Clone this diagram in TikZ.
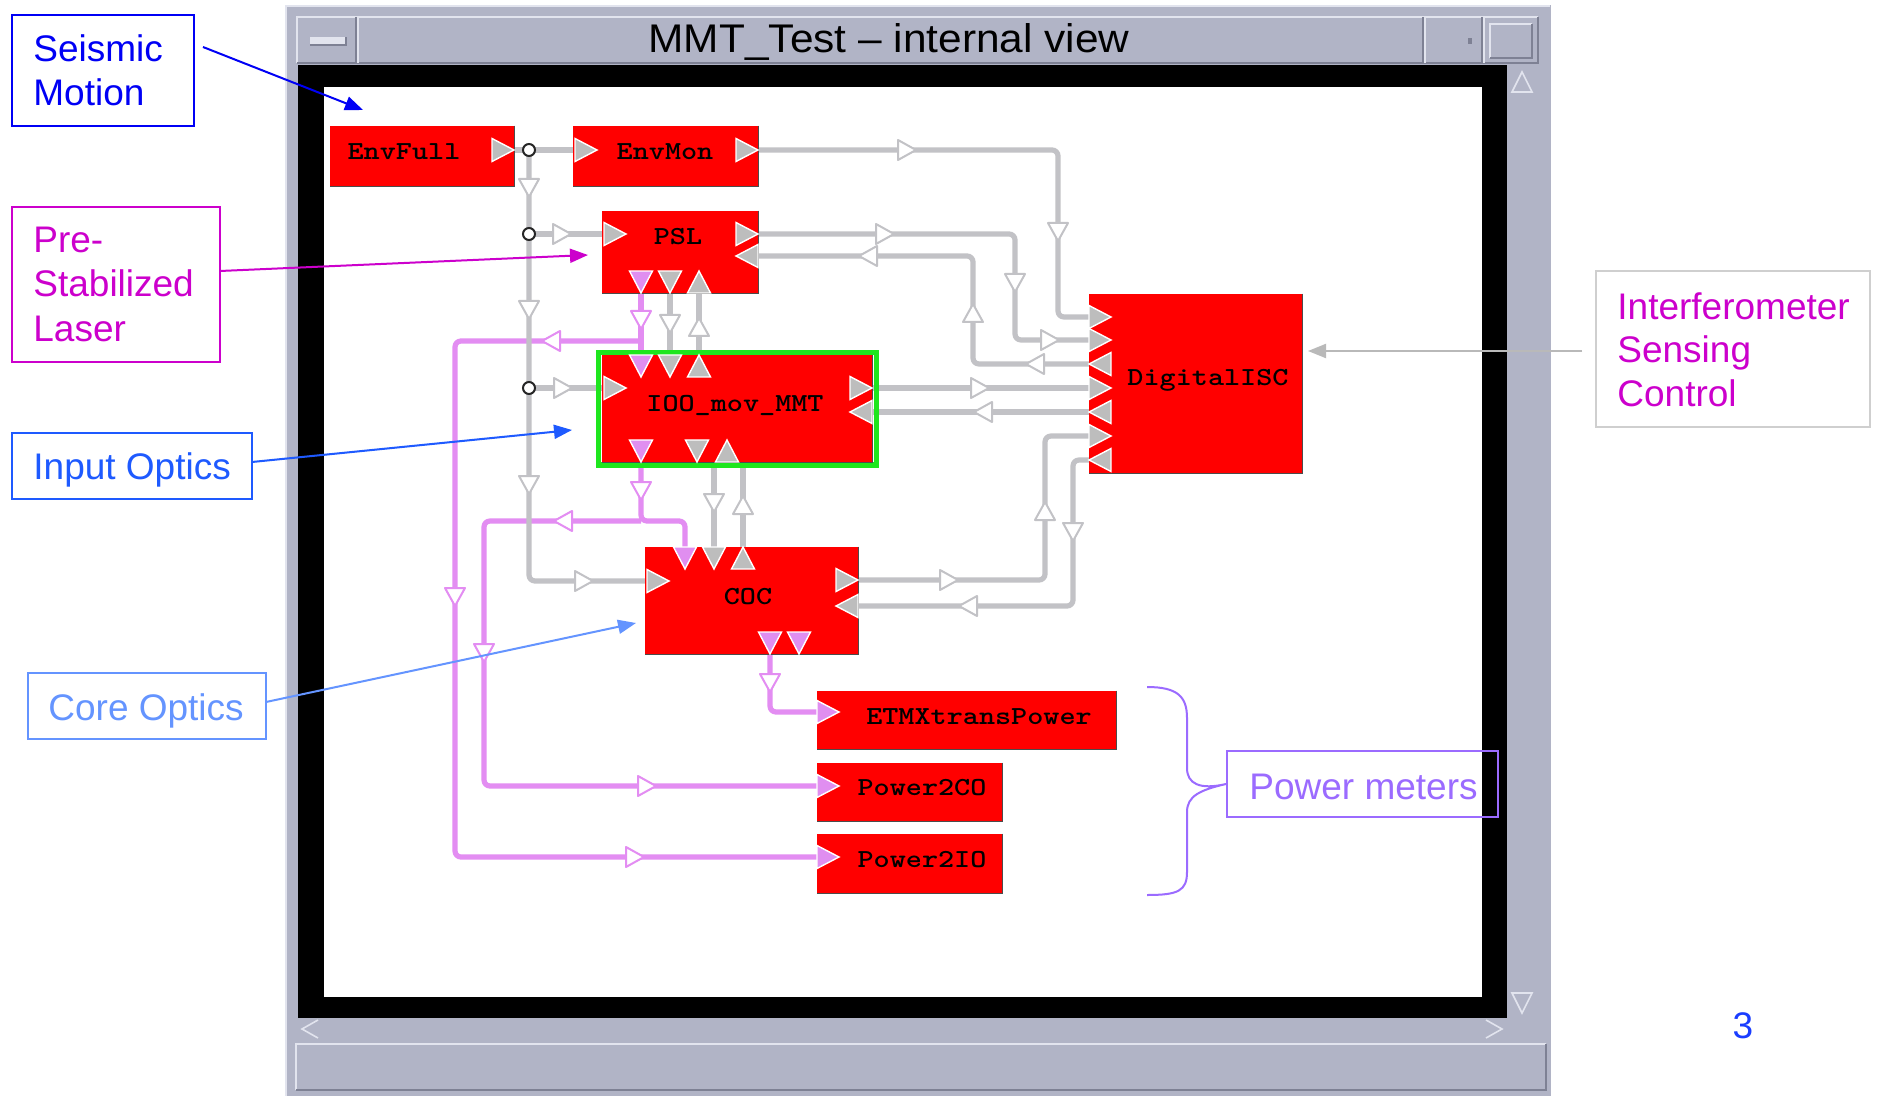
\documentclass[tikz,border=0pt]{standalone}
\usepackage{fontspec}
\usepackage{graphicx}
\setmainfont{Liberation Sans}
\newfontfamily\blkfont{lmmonolt10-bold}[Extension=.otf]
\usetikzlibrary{arrows.meta,fit}
\definecolor{winbg}{HTML}{B1B4C6}
\definecolor{winhl}{HTML}{E2E4EE}
\definecolor{winsh}{HTML}{7E8194}
\definecolor{wiregrey}{HTML}{C2C2C6}
\definecolor{portgrey}{HTML}{BDBDBD}
\definecolor{wirepink}{HTML}{E38DF2}
\definecolor{portpink}{HTML}{E08EF0}
\definecolor{ioogreen}{HTML}{1EE61E}
\definecolor{seisblue}{HTML}{0000F5}
\definecolor{pslmag}{HTML}{CC00CC}
\definecolor{ioblue}{HTML}{1E5AFF}
\definecolor{coblue}{HTML}{6494FF}
\definecolor{isclinegrey}{HTML}{B9B9B9}
\definecolor{iscbox}{HTML}{CFCFCF}
\definecolor{pwrpurple}{HTML}{9B6BFF}
\definecolor{pagenum}{HTML}{1A3DFF}
\definecolor{blkred}{HTML}{FF0000}
% port triangles (tip position)
\newcommand\portR[3][portg]{\path[#1] (#2,#3) -- ++(-22,-11.5) -- ++(0,23) -- cycle;}
\newcommand\portL[3][portg]{\path[#1] (#2,#3) -- ++(22,-11.5) -- ++(0,23) -- cycle;}
\newcommand\portD[3][portg]{\path[#1] (#2,#3) -- ++(-11.5,-22) -- ++(23,0) -- cycle;}
\newcommand\portU[3][portg]{\path[#1] (#2,#3) -- ++(-11.5,22) -- ++(23,0) -- cycle;}
% hollow wire arrows (centre position)
\newcommand\harR[3][hg]{\path[#1] (#2+9,#3) -- ++(-18,-10) -- ++(0,20) -- cycle;}
\newcommand\harL[3][hg]{\path[#1] (#2-9,#3) -- ++(18,-10) -- ++(0,20) -- cycle;}
\newcommand\harD[3][hg]{\path[#1] (#2,#3+9) -- ++(-10,-18) -- ++(20,0) -- cycle;}
\newcommand\harU[3][hg]{\path[#1] (#2,#3-9) -- ++(-10,18) -- ++(20,0) -- cycle;}
\newcommand\blkshade[1]{\draw[blkshadow] (#1.north east) -- (#1.south east) -- (#1.south west);}
\newcommand\btext[1]{\scalebox{1.18}[1]{#1}}
\begin{document}
\begin{tikzpicture}[x=0.5pt,y=-0.5pt,
  blk/.style={fill=blkred, inner sep=0pt, draw=none},
  blkshadow/.style={draw=black!70, line width=0.6pt},
  btxt/.style={font=\blkfont\fontsize{13}{14}\selectfont, text=black, inner sep=0pt},
  wg/.style={draw=wiregrey, line width=2.6pt, rounded corners=3pt},
  wp/.style={draw=wirepink, line width=2.6pt, rounded corners=3pt},
  portg/.style={fill=portgrey, draw=white, line width=0.7pt},
  portp/.style={fill=portpink, draw=white, line width=0.7pt},
  hg/.style={draw=wiregrey, fill=white, line width=1pt, line join=round},
  hp/.style={draw=wirepink, fill=white, line width=1pt, line join=round},
  circ/.style={circle, draw=black!85, fill=white, line width=1pt, minimum size=6pt, inner sep=0pt},
  lbl/.style={font=\fontsize{18.5}{22}\selectfont, anchor=base west, inner sep=0pt},
  callbox/.style={inner sep=0pt, line width=1pt},
  callarrow/.style={line width=1pt, -{Triangle[length=9pt,width=7pt]}}
]
\useasboundingbox (0,0) rectangle (1879,1096);
\fill[white] (0,0) rectangle (1879,1096);

% ---------------- window chrome ----------------
\fill[winbg] (285,5) rectangle (1551,1096);
\draw[winhl, line width=1pt] (286,1096) -- (286,6) -- (1550,6);
\draw[winhl, line width=1.2pt] (297,63) -- (297,17) -- (1538,17);
\draw[winsh, line width=1.2pt] (1538,17) -- (1538,63) -- (297,63);
\draw[winsh, line width=0.8pt] (356,17) -- (356,63);
\draw[winhl, line width=0.8pt] (358,17) -- (358,63);
\draw[winsh, line width=0.8pt] (1423,17) -- (1423,63);
\draw[winhl, line width=0.8pt] (1425,17) -- (1425,63);
\draw[winsh, line width=0.8pt] (1482,17) -- (1482,63);
\draw[winhl, line width=0.8pt] (1484,17) -- (1484,63);
\fill[winhl] (310,37) rectangle (346,45);
\draw[winsh, line width=0.8pt] (310,45) -- (346,45) -- (346,37);
\fill[winsh] (1468,38) rectangle (1472,44);
\draw[winhl, line width=1pt] (1490,58) -- (1490,24) -- (1532,24);
\draw[winsh, line width=1pt] (1532,24) -- (1532,58) -- (1490,58);
\node[font=\fontsize{20}{22}\selectfont, inner sep=0pt] (title) at (889,42) {\scalebox{1.06}[1]{MMT\_Test – internal view}};

\fill[black] (298,65) rectangle (1507,1018);
\fill[white] (324,87) rectangle (1482,997);
\draw[winhl, line width=0.8pt] (1512,92) -- (1522,72) -- (1532,92) -- cycle;
\draw[winhl, line width=0.8pt] (1512,993) -- (1522,1013) -- (1532,993) -- cycle;
\draw[winhl, line width=0.8pt] (318,1020) -- (302,1029) -- (318,1038);
\draw[winhl, line width=0.8pt] (1486,1020) -- (1502,1029) -- (1486,1038);
\draw[winhl, line width=1pt] (296,1090) -- (296,1044) -- (1546,1044);
\draw[winsh, line width=1pt] (1546,1044) -- (1546,1090) -- (296,1090);

% ---------------- port coordinates ----------------
\coordinate (envfull-o) at (514,150);
\coordinate (envmon-i) at (573,150);
\coordinate (envmon-o) at (758,150);
\coordinate (psl-i) at (602,234);
\coordinate (psl-o) at (758,234);
\coordinate (psl-r) at (758,256);
\coordinate (psl-b1) at (641,293);
\coordinate (psl-b2) at (670,293);
\coordinate (psl-b3) at (699,293);
\coordinate (ioo-i) at (602,388);
\coordinate (ioo-o) at (872,388);
\coordinate (ioo-r) at (872,412);
\coordinate (ioo-t1) at (641,355);
\coordinate (ioo-t2) at (670,355);
\coordinate (ioo-t3) at (699,355);
\coordinate (ioo-b1) at (641,462);
\coordinate (ioo-b2) at (714,462);
\coordinate (ioo-b3) at (743,462);
\coordinate (coc-i) at (645,581);
\coordinate (coc-o) at (858,580);
\coordinate (coc-r) at (858,606);
\coordinate (coc-t1) at (685,547);
\coordinate (coc-t2) at (714,547);
\coordinate (coc-t3) at (743,547);
\coordinate (coc-b1) at (770,654);
\coordinate (disc-1) at (1089,317);
\coordinate (disc-2) at (1089,340);
\coordinate (disc-3) at (1089,364);
\coordinate (disc-4) at (1089,388);
\coordinate (disc-5) at (1089,412);
\coordinate (disc-6) at (1089,436);
\coordinate (disc-7) at (1089,460);
\coordinate (etmx-i) at (817,712);
\coordinate (p2co-i) at (817,786);
\coordinate (p2io-i) at (817,857);
\coordinate (tap-a) at (529,150);
\coordinate (tap-b) at (529,234);
\coordinate (tap-c) at (529,388);
\coordinate (jp1) at (641,341);
\coordinate (jp2) at (641,521);

% ---------------- pink wires ----------------
\draw[wp] (psl-b1) -- (ioo-t1);
\draw[wp] (jp1) -- (455,341) -- (455,857) -- (p2io-i);
\draw[wp] (ioo-b1) -- (641,521) -- (685,521) -- (coc-t1);
\draw[wp] (jp2) -- (484,521) -- (484,786) -- (p2co-i);
\draw[wp] (coc-b1) -- (770,712) -- (etmx-i);

% ---------------- grey wires ----------------
\draw[wg] (envfull-o) -- (envmon-i);
\draw[wg] (tap-a) -- (529,581) -- (coc-i);
\draw[wg] (tap-b) -- (psl-i);
\draw[wg] (tap-c) -- (ioo-i);
\draw[wg] (envmon-o) -- (1058,150) -- (1058,317) -- (disc-1);
\draw[wg] (psl-o) -- (1015,234) -- (1015,340) -- (disc-2);
\draw[wg] (disc-3) -- (973,364) -- (973,256) -- (psl-r);
\draw[wg] (ioo-o) -- (disc-4);
\draw[wg] (disc-5) -- (ioo-r);
\draw[wg] (coc-o) -- (1045,580) -- (1045,436) -- (disc-6);
\draw[wg] (disc-7) -- (1073,460) -- (1073,606) -- (coc-r);
\draw[wg] (psl-b2) -- (ioo-t2);
\draw[wg] (ioo-t3) -- (psl-b3);
\draw[wg] (ioo-b2) -- (coc-t2);
\draw[wg] (coc-t3) -- (ioo-b3);

% ---------------- hollow wire arrows ----------------
\harD{529}{188} \harD{529}{310} \harD{529}{485} \harR{584}{581}
\harR{562}{234} \harR{563}{388}
\harR{907}{150} \harD{1058}{232}
\harR{885}{234} \harD{1015}{283} \harR{1050}{340}
\harL{1035}{364} \harU{973}{313} \harL{868}{256}
\harR{980}{388} \harL{983}{412}
\harR{949}{580} \harU{1045}{511}
\harD{1073}{532} \harL{968}{606}
\harD{670}{324} \harU{699}{327}
\harD{714}{503} \harU{743}{505}
\harD[hp]{641}{320} \harL[hp]{551}{341} \harD[hp]{455}{597} \harR[hp]{635}{857}
\harD[hp]{641}{491} \harL[hp]{563}{521} \harD[hp]{484}{653} \harR[hp]{647}{786}
\harD[hp]{770}{683}

% ---------------- blocks ----------------
\node[blk, fit={(330,126) (514,186)}] (envfull) {};
\node[blk, fit={(573,126) (758,186)}] (envmon) {};
\node[blk, fit={(602,211) (758,293)}] (psl) {};
\draw[ioogreen, line width=2.6pt] (598.5,352.5) rectangle (876.5,465);
\node[blk, fit={(602,355) (872,462)}] (ioo) {};
\node[blk, fit={(645,547) (858,654)}] (coc) {};
\node[blk, fit={(1089,294) (1302,473)}] (disc) {};
\node[blk, fit={(817,691) (1116,749)}] (etmx) {};
\node[blk, fit={(817,763) (1002,821)}] (p2co) {};
\node[blk, fit={(817,834) (1002,893)}] (p2io) {};
\blkshade{envfull}\blkshade{envmon}\blkshade{psl}\blkshade{ioo}\blkshade{coc}
\blkshade{disc}\blkshade{etmx}\blkshade{p2co}\blkshade{p2io}

\node[btxt] (envfull-t) at (404,152) {\btext{EnvFull}};
\node[btxt] (envmon-t) at (665,152) {\btext{EnvMon}};
\node[btxt] (psl-t) at (678,237) {\btext{PSL}};
\node[btxt] (ioo-t) at (735,405) {\btext{IOO\_mov\_MMT}};
\node[btxt] (coc-t) at (748,597) {\btext{COC}};
\node[btxt] (disc-t) at (1208,380) {\btext{DigitalISC}};
\node[btxt] (etmx-t) at (979,717) {\btext{ETMXtransPower}};
\node[btxt] (p2co-t) at (922,788) {\btext{Power2CO}};
\node[btxt] (p2io-t) at (922,860) {\btext{Power2IO}};

% ---------------- ports ----------------
\portR{514}{150}
\portR{597}{150} \portR{758}{150}
\portR{626}{234} \portR{758}{234} \portL{736}{256}
\portD[portp]{641}{293} \portD{670}{293} \portU{699}{271}
\portR{626}{388} \portR{872}{388} \portL{850}{412}
\portD[portp]{641}{377} \portD{670}{377} \portU{699}{355}
\portD[portp]{641}{462} \portD{697}{462} \portU{727}{440}
\portR{669}{581} \portR{858}{580} \portL{836}{606}
\portD[portp]{685}{569} \portD{714}{569} \portU{743}{547}
\portD[portp]{770}{654} \portD[portp]{799}{654}
\portR{1111}{317} \portR{1111}{340} \portL{1089}{364} \portR{1111}{388}
\portL{1089}{412} \portR{1111}{436} \portL{1089}{460}
\portR[portp]{839}{712} \portR[portp]{839}{786} \portR[portp]{839}{857}

% ---------------- taps ----------------
\node[circ] (tap1) at (tap-a) {};
\node[circ] (tap2) at (tap-b) {};
\node[circ] (tap3) at (tap-c) {};

% ---------------- callouts ----------------
\node[callbox, draw=seisblue, fit={(12,15) (194,126)}] (seisbox) {};
\node[lbl, text=seisblue] (seis1) at (33,62) {Seismic};
\node[lbl, text=seisblue] (seis2) at (33,106) {Motion};
\coordinate (seis-from) at (203,47);
\coordinate (seis-to) at (363,110);
\draw[callarrow, seisblue] (seis-from) -- (seis-to);

\node[callbox, draw=pslmag, fit={(12,207) (220,362)}] (pslbox) {};
\node[lbl, text=pslmag] (psl1) at (33,253) {Pre-};
\node[lbl, text=pslmag] (psl2) at (33,297) {Stabilized};
\node[lbl, text=pslmag] (psl3) at (33,342) {Laser};
\coordinate (psl-from) at (220,271);
\coordinate (psl-to) at (588,255);
\draw[callarrow, pslmag] (psl-from) -- (psl-to);

\node[callbox, draw=ioblue, fit={(12,433) (252,499)}] (iobox) {};
\node[lbl, text=ioblue] (io1) at (33,480) {Input Optics};
\coordinate (io-from) at (252,462);
\coordinate (io-to) at (572,430);
\draw[callarrow, ioblue] (io-from) -- (io-to);

\node[callbox, draw=coblue, fit={(28,673) (266,739)}] (cobox) {};
\node[lbl, text=coblue] (co1) at (48,720) {Core Optics};
\coordinate (co-from) at (266,702);
\coordinate (co-to) at (636,623);
\draw[callarrow, coblue] (co-from) -- (co-to);

\node[callbox, draw=iscbox, fit={(1596,271) (1870,427)}] (iscbox) {};
\node[lbl, text=pslmag] (isc1) at (1617,320) {Interferometer};
\node[lbl, text=pslmag] (isc2) at (1617,363) {Sensing};
\node[lbl, text=pslmag] (isc3) at (1617,407) {Control};
\coordinate (isc-from) at (1582,351);
\coordinate (isc-to) at (1308,351);
\draw[callarrow, isclinegrey] (isc-from) -- (isc-to);

\node[callbox, draw=pwrpurple, fit={(1227,751) (1498,817)}] (pwrbox) {};
\node[lbl, text=pwrpurple] (pwr1) at (1249,799) {Power meters};
\draw[pwrpurple, line width=1pt] (1147,687) .. controls (1178,687) and (1187,697) .. (1187,718)
  -- (1187,768) .. controls (1187,784) and (1200,790) .. (pwrbox.west)
  .. controls (1200,790) and (1187,796) .. (1187,812)
  -- (1187,872) .. controls (1187,891) and (1178,895) .. (1147,895);

\node[font=\fontsize{18.5}{22}\selectfont, text=pagenum, anchor=base, inner sep=0pt] (pagenum) at (1743,1038) {3};
\end{tikzpicture}
\end{document}
